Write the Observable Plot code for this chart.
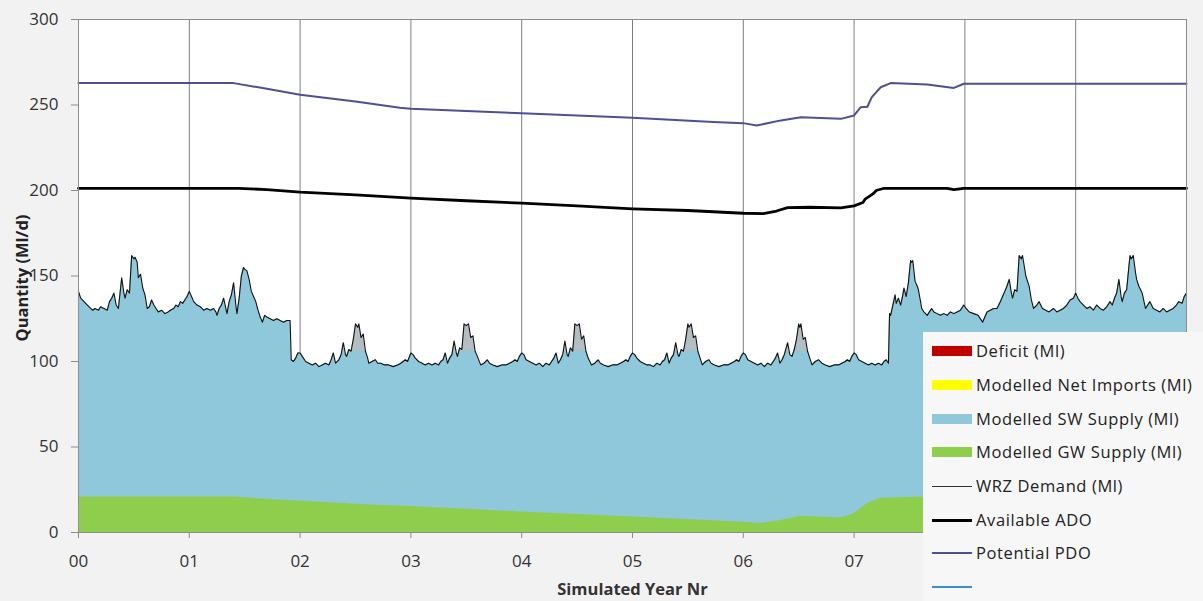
<!DOCTYPE html>
<html>
<head>
<meta charset="utf-8">
<script src="https://cdn.jsdelivr.net/npm/d3@7"></script>
<script src="https://cdn.jsdelivr.net/npm/@observablehq/plot@0.6"></script>
<style>
  html, body { margin: 0; padding: 0; background: #f2f2f2; }
  #wrap { position: relative; width: 1203px; height: 601px; overflow: hidden; font-family: 'Open Sans', sans-serif; }
  #legend { position: absolute; left: 923px; top: 332px; width: 280px; height: 269px; background: #f7f7f7; }
  .row { position: absolute; left: 0; height: 22px; line-height: 22px; font-size: 16.5px; letter-spacing: 0.6px; color: #222; white-space: nowrap; }
  .sw { position: absolute; left: 9px; width: 40px; }
  .lab { position: absolute; left: 53px; top: 0; }
</style>
</head>
<body>
<div id="wrap"><div id="chart"></div><div id="legend"></div></div>
<script>
// ---- data (years since start, Ml/d) ----
const demand = [
  [0.00,141],[0.02,137],[0.05,135],[0.08,133],[0.11,131],[0.13,130],[0.15,131],[0.18,130],[0.20,132],[0.23,131],[0.26,130],[0.28,135],[0.30,137],[0.32,140],[0.34,133],[0.36,131],[0.38,143],[0.39,149],[0.41,140],[0.42,137],[0.44,142],[0.46,140],[0.48,162],[0.50,160],[0.51,161],[0.53,158],[0.54,149],[0.56,151],[0.58,143],[0.60,139],[0.62,131],[0.64,132],[0.66,136],[0.68,133],[0.70,131],[0.72,129],[0.75,130],[0.78,128],[0.81,129],[0.83,130],[0.86,131],[0.88,133],[0.90,132],[0.92,135],[0.94,134],[0.96,136],[0.98,138],
  [1.00,141],[1.02,138],[1.04,135],[1.07,133],[1.10,132],[1.13,130],[1.16,131],[1.19,130],[1.22,131],[1.24,129],[1.25,127],[1.27,131],[1.29,133],[1.31,137],[1.33,131],[1.34,128],[1.36,135],[1.38,139],[1.40,146],[1.42,133],[1.43,128],[1.45,137],[1.47,150],[1.49,155],[1.50,154],[1.52,153],[1.54,148],[1.56,141],[1.58,138],[1.60,135],[1.62,130],[1.64,126],[1.66,123],[1.68,127],[1.70,126],[1.73,125],[1.76,124],[1.79,125],[1.82,124],[1.85,123],[1.88,124],[1.91,124],[1.92,101],[1.94,100],[1.96,102],[1.98,105],
  [2.00,105],[2.02,103],[2.05,100],[2.08,99],[2.11,98],[2.14,99],[2.17,97],[2.20,98],[2.23,99],[2.26,98],[2.28,101],[2.30,105],[2.32,99],[2.35,101],[2.37,104],[2.39,111],[2.41,104],[2.42,103],[2.44,107],[2.46,106],[2.48,113],[2.50,122],[2.52,120],[2.53,122],[2.55,114],[2.57,116],[2.59,106],[2.61,102],[2.62,99],[2.65,100],[2.68,101],[2.70,99],[2.73,99],[2.76,98],[2.80,98],[2.84,97],[2.88,98],[2.91,99],[2.93,100],[2.95,101],[2.97,100],
  [3.00,105],[3.02,104],[3.04,102],[3.07,100],[3.10,99],[3.13,98],[3.16,99],[3.19,98],[3.22,99],[3.25,98],[3.27,100],[3.29,101],[3.31,105],[3.33,99],[3.35,102],[3.37,104],[3.39,112],[3.41,105],[3.42,103],[3.44,108],[3.46,107],[3.48,122],[3.50,121],[3.52,122],[3.54,114],[3.56,115],[3.58,106],[3.60,103],[3.63,98],[3.66,99],[3.69,101],[3.71,99],[3.74,98],[3.78,97],[3.82,98],[3.86,98],[3.89,99],[3.92,100],[3.94,101],[3.96,100],[3.98,103],
  [4.00,105],[4.02,104],[4.04,101],[4.07,100],[4.10,99],[4.13,98],[4.16,99],[4.19,97],[4.22,99],[4.25,98],[4.27,100],[4.29,102],[4.31,105],[4.33,99],[4.35,101],[4.37,104],[4.39,112],[4.41,104],[4.42,103],[4.44,108],[4.46,106],[4.48,122],[4.50,121],[4.52,122],[4.54,113],[4.56,115],[4.58,106],[4.60,102],[4.63,98],[4.66,99],[4.69,101],[4.71,99],[4.74,98],[4.78,97],[4.82,98],[4.86,98],[4.89,99],[4.92,100],[4.94,101],[4.96,100],[4.98,103],
  [5.00,105],[5.02,104],[5.04,102],[5.07,100],[5.10,99],[5.13,98],[5.16,98],[5.19,97],[5.22,99],[5.25,98],[5.27,100],[5.29,101],[5.31,105],[5.33,99],[5.35,102],[5.37,104],[5.39,111],[5.41,104],[5.42,103],[5.44,107],[5.46,106],[5.48,113],[5.50,122],[5.51,120],[5.53,122],[5.55,114],[5.57,115],[5.59,106],[5.61,102],[5.63,98],[5.66,100],[5.69,101],[5.71,99],[5.74,98],[5.78,97],[5.82,98],[5.86,98],[5.89,99],[5.92,100],[5.94,101],[5.96,100],[5.98,103],
  [6.00,105],[6.02,104],[6.04,101],[6.07,100],[6.10,99],[6.13,98],[6.16,99],[6.19,97],[6.22,99],[6.25,98],[6.27,100],[6.29,102],[6.31,105],[6.33,99],[6.35,101],[6.37,104],[6.40,111],[6.42,104],[6.44,103],[6.46,107],[6.48,113],[6.50,122],[6.51,120],[6.52,122],[6.54,113],[6.56,114],[6.58,106],[6.60,102],[6.62,98],[6.65,100],[6.68,101],[6.71,99],[6.74,98],[6.78,97],[6.82,98],[6.86,98],[6.89,99],[6.92,100],[6.94,101],[6.96,100],[6.98,103],
  [7.00,105],[7.02,104],[7.04,101],[7.07,100],[7.10,99],[7.13,98],[7.16,99],[7.19,98],[7.22,99],[7.25,98],[7.27,100],[7.29,101],[7.31,99],[7.32,128],[7.33,127],[7.35,133],[7.37,139],[7.38,134],[7.40,137],[7.42,133],[7.44,139],[7.45,143],[7.47,138],[7.49,146],[7.51,159],[7.52,158],[7.53,159],[7.55,147],[7.57,144],[7.58,142],[7.60,135],[7.61,131],[7.63,129],[7.66,127],[7.68,129],[7.70,131],[7.72,129],[7.75,128],[7.78,127],[7.81,128],[7.84,127],[7.87,129],[7.90,128],[7.93,129],[7.96,130],[7.99,133],
  [8.01,131],[8.04,129],[8.08,128],[8.12,127],[8.16,123],[8.18,126],[8.20,129],[8.23,130],[8.26,131],[8.29,131],[8.32,135],[8.34,138],[8.36,141],[8.38,144],[8.40,148],[8.42,140],[8.43,137],[8.45,142],[8.47,141],[8.49,162],[8.51,160],[8.52,162],[8.55,150],[8.57,146],[8.58,144],[8.60,136],[8.62,131],[8.65,133],[8.67,135],[8.70,131],[8.73,130],[8.76,129],[8.80,131],[8.83,129],[8.86,130],[8.89,131],[8.92,133],[8.95,136],[8.98,137],
  [9.00,140],[9.02,137],[9.04,135],[9.07,133],[9.10,131],[9.13,132],[9.16,130],[9.19,133],[9.22,131],[9.25,130],[9.28,132],[9.31,135],[9.33,133],[9.35,137],[9.37,140],[9.39,148],[9.41,138],[9.42,135],[9.44,140],[9.46,142],[9.49,162],[9.50,160],[9.52,162],[9.54,152],[9.55,148],[9.57,144],[9.60,140],[9.62,134],[9.63,131],[9.65,133],[9.67,135],[9.70,131],[9.73,130],[9.76,129],[9.79,131],[9.82,129],[9.85,130],[9.88,131],[9.91,133],[9.93,135],[9.96,134],[9.98,138],[10.00,140]
];
// SW supply ceiling (Ml/d) during the period where supply falls short of peak demand
const swCapPeriods = [{from: 1.92, to: 7.315, cap: 106}];
const gwSupply = [[0,20.7],[1.4,20.7],[2.0,18.3],[2.73,15.8],[3.0,15.2],[4.0,12],[5.0,9],[6.0,6],[6.15,5.2],[6.34,7],[6.52,9.5],[6.88,8.5],[7.0,11],[7.12,17],[7.24,20],[7.6,20.7],[10,20.7]];
const availableADO = [[0,201.3],[1.45,201.3],[1.7,200.5],[2.0,199],[2.5,197.5],[3.0,195.5],[3.5,194],[4.0,192.6],[4.5,191],[5.0,189.3],[5.5,188.3],[6.0,186.7],[6.18,186.5],[6.3,188],[6.4,190],[6.6,190.2],[6.88,189.8],[7.0,191],[7.08,193],[7.1,195],[7.17,198],[7.2,200],[7.27,201.3],[7.84,201.3],[7.9,200.5],[7.99,201.3],[10,201.3]];
const potentialPDO = [[0,262.8],[1.4,262.8],[1.7,259.5],[2.0,256],[2.5,252],[2.9,248.4],[3.0,247.8],[3.5,246.5],[4.0,245.2],[4.5,243.8],[5.0,242.5],[5.73,240],[6.0,239.4],[6.12,238],[6.34,241],[6.52,242.9],[6.88,241.9],[7.0,243.9],[7.06,248.7],[7.12,249],[7.16,254.6],[7.24,260.4],[7.33,262.8],[7.66,262],[7.9,260],[7.99,262.4],[10,262.5]];
const gridYears = [1,2,3,4,5,6,7,8,9];
const xTicks = [0,1,2,3,4,5,6,7];
const xTickLabels = ["00","01","02","03","04","05","06","07"];
const yTicks = [0,50,100,150,200,250,300];
const legendItems = [
  {label: "Deficit (Ml)", type: "area", color: "#c00000"},
  {label: "Modelled Net Imports (Ml)", type: "area", color: "#ffff00"},
  {label: "Modelled SW Supply (Ml)", type: "area", color: "#8ec8da"},
  {label: "Modelled GW Supply (Ml)", type: "area", color: "#8fce4c"},
  {label: "WRZ Demand (Ml)", type: "line", color: "#333333", width: 1},
  {label: "Available ADO", type: "line", color: "#000000", width: 3},
  {label: "Potential PDO", type: "line", color: "#4f4f94", width: 2.5},
  {label: "", type: "line", color: "#3a8fd0", width: 2}
];

// SW supply top = demand limited by the ceiling within capped periods
const swTop = demand.map(([t, v]) => {
  const p = swCapPeriods.find(p => t >= p.from && t < p.to);
  return [t, p ? Math.min(v, p.cap) : v];
});

const chart = Plot.plot({
  width: 1203, height: 601,
  marginLeft: 78, marginRight: 17, marginTop: 19, marginBottom: 69,
  style: {fontFamily: "'Open Sans', sans-serif", background: "#f2f2f2", color: "#333"},
  x: {domain: [0, 10]},
  y: {domain: [0, 300]},
  marks: [
    Plot.frame({fill: "white", stroke: null}),
    Plot.ruleX(gridYears, {stroke: "#7f7f7f", strokeWidth: 1}),
    Plot.areaY(demand, {x: d => d[0], y: d => d[1], fill: "#b3bec1"}),
    Plot.areaY(swTop, {x: d => d[0], y: d => d[1], fill: "#8ec8da"}),
    Plot.areaY(gwSupply, {x: d => d[0], y: d => d[1], fill: "#8fce4c"}),
    Plot.line(demand, {x: d => d[0], y: d => d[1], stroke: "#111", strokeWidth: 1.1}),
    Plot.line(availableADO, {x: d => d[0], y: d => d[1], stroke: "#000", strokeWidth: 2.8}),
    Plot.line(potentialPDO, {x: d => d[0], y: d => d[1], stroke: "#4f4f94", strokeWidth: 2}),
    Plot.frame({stroke: "#8c8c8c"}),
    Plot.axisY({ticks: yTicks, tickSize: 7, tickPadding: 13, fontSize: 17, stroke: "#8c8c8c", label: null}),
    Plot.axisX({ticks: xTicks, tickFormat: d => xTickLabels[xTicks.indexOf(d)], tickSize: 6, tickPadding: 16, fontSize: 17, stroke: "#8c8c8c", label: null}),
    Plot.text(["Simulated Year Nr"], {frameAnchor: "bottom", dy: 57, lineAnchor: "middle", fontWeight: "bold", fontSize: 16.5, fill: "#333"}),
    Plot.text(["Quantity (Ml/d)"], {frameAnchor: "left", dx: -56, dy: 2, rotate: -90, textAnchor: "middle", lineAnchor: "middle", fontWeight: "bold", fontSize: 16.5, fill: "#222"})
  ]
});
document.getElementById("chart").appendChild(chart);

// legend
const legend = document.getElementById("legend");
const rowCenters = [19, 53, 87, 120, 154, 188, 221, 255];
legendItems.forEach((it, i) => {
  const row = document.createElement("div");
  row.className = "row";
  row.style.top = (rowCenters[i] - 11) + "px";
  row.style.width = "280px";
  const sw = document.createElement("div");
  sw.className = "sw";
  if (it.type === "area") {
    sw.style.top = "6px"; sw.style.height = "10px"; sw.style.background = it.color;
  } else {
    sw.style.top = (11 - it.width / 2) + "px"; sw.style.height = it.width + "px"; sw.style.background = it.color;
  }
  const lab = document.createElement("span");
  lab.className = "lab";
  lab.textContent = it.label;
  row.appendChild(sw); row.appendChild(lab);
  legend.appendChild(row);
});
</script>
</body>
</html>
